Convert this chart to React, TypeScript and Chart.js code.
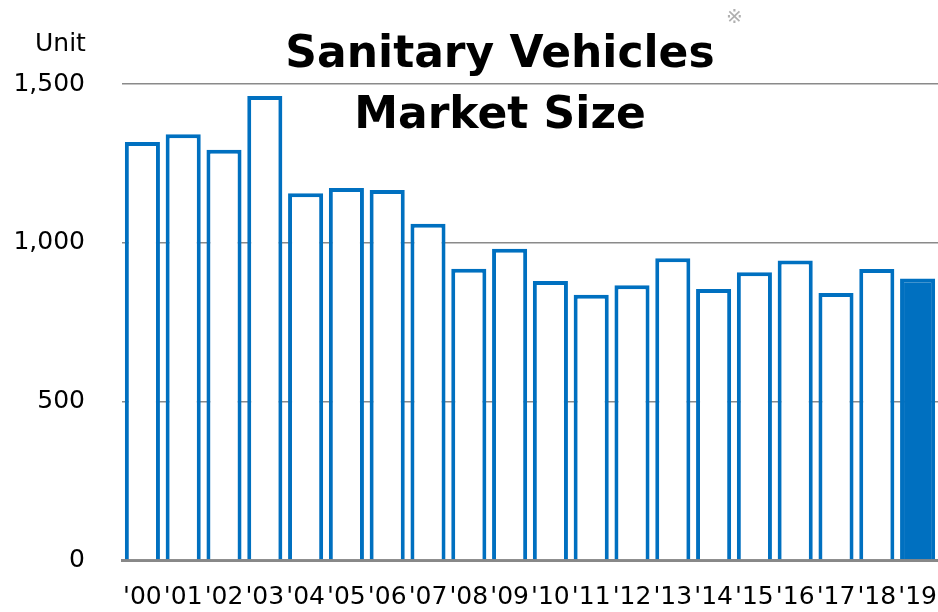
import React, { useEffect, useRef } from "react";
import { Chart, registerables } from "chart.js";

Chart.register(...registerables);

const years = ["'00", "'01", "'02", "'03", "'04", "'05", "'06", "'07", "'08", "'09", "'10", "'11", "'12", "'13", "'14", "'15", "'16", "'17", "'18", "'19"];
const units = [1317, 1342, 1293, 1462, 1156, 1172, 1166, 1060, 918, 981, 879, 836, 866, 951, 854, 907, 944, 841, 917, 887];
const yTicks = [0, 500, 1000, 1500];
const titleLines = ["Sanitary Vehicles", "Market Size"];
const unitLabel = "Unit";
const noteMark = "※";

const BLUE = "#0070C0";
const FONT = "'DejaVu Sans', Verdana, sans-serif";

export default function App() {
  const ref = useRef<HTMLCanvasElement>(null);
  useEffect(() => {
    if (!ref.current) return;
    const last = units.length - 1;
    const chart = new Chart(ref.current, {
      type: "bar",
      data: {
        labels: years,
        datasets: [
          {
            data: units,
            backgroundColor: units.map((_, i) => (i === last ? BLUE : "#ffffff")),
            borderColor: BLUE,
            borderWidth: 4,
            barPercentage: 0.86,
            categoryPercentage: 1,
          },
        ],
      },
      options: {
        animation: false,
        responsive: false,
        maintainAspectRatio: false,
        layout: { padding: { top: 84, right: 0, left: 0, bottom: 0 } },
        plugins: { legend: { display: false }, title: { display: false }, tooltip: { enabled: false } },
        scales: {
          x: {
            grid: { display: false, drawTicks: false },
            border: { display: true, color: "#888888", width: 3 },
            ticks: { color: "#000", font: { family: FONT, size: 25 }, padding: 22, maxRotation: 0, minRotation: 0, autoSkip: false },
            afterFit: (s: any) => {
              s.height = 52;
              s.paddingLeft = 0;
              s.paddingRight = 0;
            },
          },
          y: {
            min: 0,
            max: 1500,
            afterBuildTicks: (s: any) => { s.ticks = yTicks.map((v) => ({ value: v })); },
            grid: { color: "#8a8a8a", lineWidth: 1.5, drawTicks: false },
            border: { display: false },
            ticks: {
              color: "#000",
              font: { family: FONT, size: 25 },
              padding: 37,
              callback: (v: any) => Number(v).toLocaleString("en-US"),
            },
            afterFit: (s: any) => { s.width = 122; },
          },
        },
      },
    });
    return () => chart.destroy();
  }, []);

  return (
    <div style={{ position: "fixed", left: 0, top: 0, width: 938, height: 612, background: "#fff", fontFamily: FONT, overflow: "hidden" }}>
      <canvas ref={ref} width={938} height={612} style={{ position: "absolute", left: 0, top: 0 }} />
      <div style={{ position: "absolute", left: 200, width: 600, top: 21, textAlign: "center", fontWeight: 700, fontSize: 44, lineHeight: "61px", color: "#000", whiteSpace: "nowrap" }}>
        {titleLines.map((t) => (
          <div key={t}>{t}</div>
        ))}
      </div>
      <div style={{ position: "absolute", left: 35, top: 28, fontSize: 25, lineHeight: "30px", color: "#000" }}>{unitLabel}</div>
      <div style={{ position: "absolute", left: 726, top: 4, fontSize: 20, lineHeight: "24px", color: "#b0b0b0" }}>{noteMark}</div>
    </div>
  );
}
